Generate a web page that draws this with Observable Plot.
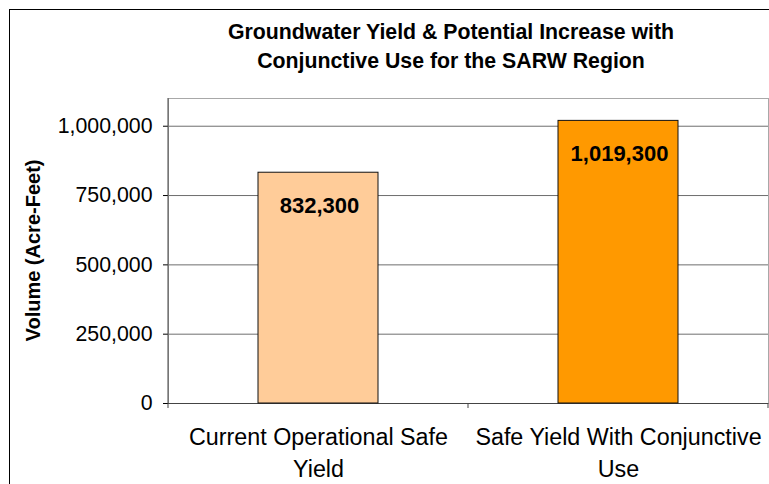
<!DOCTYPE html>
<html><head><meta charset="utf-8">
<script src="https://cdn.jsdelivr.net/npm/d3@7"></script>
<script src="https://cdn.jsdelivr.net/npm/@observablehq/plot@0.6"></script>
<style>
html,body{margin:0;padding:0;background:#fff;}
#wrap{position:relative;width:769px;height:484px;overflow:hidden;font-family:"Liberation Sans",Arial,sans-serif;background:#fff;}
#border{position:absolute;left:9px;top:9px;width:900px;height:600px;border:1px solid #000;box-sizing:border-box;}
#title{position:absolute;left:151px;width:600px;top:18px;text-align:center;font-weight:bold;font-size:21.3px;line-height:29px;color:#000;}
#chart{position:absolute;left:0;top:0;}
</style></head>
<body><div id="wrap"><div id="border"></div><div id="chart"></div><div id="title">Groundwater Yield &amp; Potential Increase with<br>Conjunctive Use for the SARW Region</div></div>
<script>
const categories = ["Current Operational Safe Yield", "Safe Yield With Conjunctive Use"];
const categoryLines = ["Current Operational Safe\nYield", "Safe Yield With Conjunctive\nUse"];
const values = [832300, 1019300];
const colors = ["#FFCC99", "#FF9900"];
const yTicks = [0, 250000, 500000, 750000, 1000000];
const yMax = 1100000;
const yLabel = "Volume (Acre-Feet)";

const data = categories.map((c, i) => ({category: c, value: values[i], color: colors[i]}));
const fmt = d3.format(",");

const chart = Plot.plot({
  width: 769, height: 484,
  marginLeft: 168, marginRight: 1, marginTop: 98, marginBottom: 81,
  style: {fontFamily: "Liberation Sans, Arial, sans-serif", background: "transparent", color: "#000", overflow: "visible"},
  x: {domain: categories, paddingInner: 0.6, paddingOuter: 0.3},
  y: {domain: [0, yMax]},
  marks: [
    Plot.gridY(yTicks, {stroke: "#6e6e6e", strokeOpacity: 1}),
    Plot.frame({stroke: "#a8a8a8"}),
    Plot.ruleY([0], {stroke: "#444"}),
    Plot.barY(data, {x: "category", y: "value", fill: "color", stroke: "#111", strokeWidth: 1}),
    Plot.text(data, {x: "category", y: "value", text: d => fmt(d.value), dy: 33, dx: 1, fontSize: 22, fontWeight: "bold", fill: "#000"}),
    Plot.axisY({ticks: yTicks, tickSize: 5, tickPadding: 11, fontSize: 21.3, tickFormat: fmt, label: null}),
    Plot.axisX({tickSize: 0, tickPadding: 19, fontSize: 23.3, lineHeight: 1.38, tickFormat: d => categoryLines[categories.indexOf(d)], label: null})
  ]
});
document.getElementById("chart").appendChild(chart);

const svg = d3.select(chart);
const xs = chart.scale("x"), ys = chart.scale("y");
const y0 = ys.apply(0), yTop = ys.apply(yMax);
// left axis line
const firstStart = xs.apply(categories[0]) + xs.bandwidth / 2 - xs.step / 2;
svg.append("line").attr("x1", firstStart).attr("x2", firstStart).attr("y1", yTop).attr("y2", y0 + 5).attr("stroke", "#444");
// category boundary ticks
categories.forEach((c) => {
  const b = xs.apply(c) + xs.bandwidth / 2 + xs.step / 2;
  svg.append("line").attr("x1", b).attr("x2", b).attr("y1", y0).attr("y2", y0 + 5).attr("stroke", "#444");
});
// y axis title
svg.append("text").attr("transform", `translate(33,${(y0 + yTop) / 2}) rotate(-90)`)
  .attr("text-anchor", "middle").attr("dominant-baseline", "central")
  .attr("font-size", 20).attr("font-weight", "bold").attr("fill", "#000")
  .attr("font-family", "Liberation Sans, Arial, sans-serif").text(yLabel);
</script>
</body></html>
